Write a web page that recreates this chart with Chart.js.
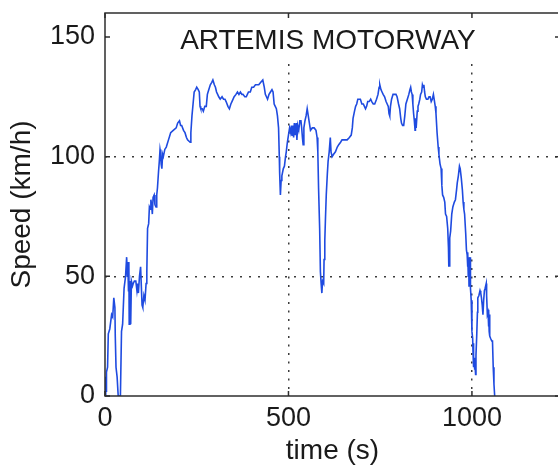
<!DOCTYPE html>
<html>
<head>
<meta charset="utf-8">
<title>ARTEMIS MOTORWAY</title>
<script src="https://cdn.jsdelivr.net/npm/chart.js@4.4.1/dist/chart.umd.min.js"></script>
<style>
  html, body { margin: 0; padding: 0; background: #fff; overflow: hidden; }
  #wrap { position: relative; width: 600px; height: 465px; }
</style>
</head>
<body>
<div id="wrap"><canvas id="speedChart"></canvas></div>
<script>
// drive cycle: time (s) vs speed (km/h)
const timeS = [
  0, 2, 3, 4, 7, 9, 13, 18, 21, 24, 27, 28, 30, 33, 36, 42, 45, 48, 52, 56,
  59, 61, 62, 64, 65, 66, 68, 70, 72, 75, 77, 80, 84, 87, 89, 91, 94, 97, 99, 101,
  103, 106, 109, 112, 114, 116, 119, 121, 124, 125, 127, 129, 131, 134, 136, 139, 141, 143, 146, 148,
  150, 152, 153, 155, 157, 159, 163, 167, 173, 179, 186, 194, 198, 203, 206, 209, 214, 218, 222, 225,
  232, 234, 237, 240, 243, 247, 250, 254, 257, 259, 261, 265, 268, 272, 276, 279, 283, 287, 291, 294,
  298, 301, 304, 307, 310, 314, 319, 323, 327, 330, 335, 339, 343, 346, 352, 357, 361, 365, 369, 373,
  376, 381, 385, 388, 391, 396, 400, 405, 410, 414, 419, 424, 430, 434, 437, 440, 443, 447, 451, 455,
  458, 461, 464, 467, 470, 473, 475, 476, 478, 480, 482, 486, 489, 492, 494, 497, 500, 503, 506, 508,
  510, 512, 514, 516, 518, 521, 523, 525, 528, 531, 534, 536, 538, 540, 542, 545, 548, 551, 554, 557,
  560, 565, 570, 575, 578, 580, 582, 585, 587, 589, 591, 593, 596, 597, 599, 601, 603, 606, 608, 611,
  614, 616, 619, 623, 628, 633, 637, 642, 646, 652, 660, 666, 671, 674, 676, 680, 683, 686, 689, 693,
  696, 700, 704, 707, 710, 713, 716, 720, 724, 727, 731, 735, 740, 744, 747, 749, 752, 755, 758, 762,
  766, 769, 772, 774, 776, 778, 781, 785, 789, 793, 796, 800, 803, 806, 808, 811, 814, 817, 820, 824,
  828, 831, 833, 835, 837, 839, 841, 843, 845, 846, 848, 851, 853, 855, 858, 860, 863, 865, 867, 869,
  871, 873, 876, 880, 883, 886, 889, 892, 895, 897, 900, 902, 905, 908, 910, 913, 916, 918, 920, 923,
  926, 928, 931, 934, 936, 937, 938, 939, 940, 942, 945, 948, 952, 955, 958, 960, 963, 966, 968, 971,
  974, 976, 978, 980, 983, 985, 987, 988, 989, 990, 991, 992, 993, 995, 996, 998, 1000, 1002, 1003, 1004,
  1005, 1006, 1007, 1008, 1010, 1011, 1013, 1015, 1016, 1019, 1022, 1024, 1026, 1028, 1030, 1032, 1034, 1036, 1039, 1040,
  1042, 1044, 1045, 1046, 1047, 1048, 1049, 1051, 1054, 1056, 1058, 1060, 1062
];
const speedKmh = [
  0, 8, 2, 10, 12, 26, 28, 34, 33, 41, 37, 25, 12, 8, 0, 0, 27, 30, 45, 50,
  58, 50, 56, 44, 56, 30, 48, 30, 48, 46, 47, 48, 48, 44, 47, 43, 50, 54, 46, 38,
  37, 42, 40, 47, 52, 70, 72, 79, 78, 82, 80, 76, 83, 84, 80, 79, 84, 87, 94, 98,
  103, 101, 97, 95, 101, 100, 103, 104, 107, 110, 111, 112, 114, 115, 113, 113, 111, 110, 108, 107,
  106, 110, 117, 122, 127, 128, 129, 128, 127, 121, 120, 120, 119, 121, 121, 126, 128, 130, 131, 132,
  130, 129, 127, 126, 125, 124, 125, 124, 124, 123, 121, 120, 122, 123, 125, 126, 127, 126, 127, 126,
  126, 125, 125, 126, 127, 127, 129, 129, 130, 130, 130, 131, 132, 129, 126, 125, 124, 126, 127, 128,
  127, 122, 121, 120, 117, 112, 100, 93, 84, 90, 92, 95, 96, 100, 102, 106, 109, 112, 110, 113,
  109, 113, 108, 114, 109, 114, 107, 113, 111, 115, 115, 112, 108, 105, 112, 115, 117, 120, 117, 114,
  111, 112, 112, 111, 108, 102, 87, 70, 52, 47, 43, 48, 47, 57, 65, 75, 84, 93, 98, 102,
  108, 102, 100, 101, 102, 104, 105, 106, 107, 107, 107, 108, 109, 112, 116, 119, 121, 122, 124, 124,
  124, 122, 122, 121, 120, 121, 123, 123, 124, 123, 122, 122, 124, 126, 129, 130, 128, 127, 126, 125,
  123, 122, 121, 118, 117, 121, 124, 126, 126, 126, 125, 122, 120, 116, 114, 113, 113, 117, 122, 124,
  126, 128, 129, 127, 126, 122, 118, 115, 111, 116, 112, 119, 121, 122, 124, 126, 127, 130, 129, 130,
  127, 125, 124, 124, 125, 125, 123, 124, 126, 124, 121, 118, 110, 104, 101, 97, 95, 88, 84, 83,
  81, 76, 75, 70, 62, 54, 60, 54, 66, 69, 76, 79, 81, 82, 86, 89, 92, 96, 95, 91,
  86, 81, 78, 76, 68, 61, 59, 54, 60, 50, 58, 46, 56, 58, 45, 40, 27, 24, 18, 22,
  12, 16, 11, 15, 9, 17, 25, 35, 41, 42, 44, 43, 41, 38, 34, 40, 44, 45, 47, 42,
  34, 35, 29, 36, 27, 34, 25, 24, 23, 23, 12, 5, 0
];

const xTicks = [0, 500, 1000];
const yTicks = [0, 50, 100, 150];
const xMax = 1240;
const yMax = 160;
const chartTitle = 'ARTEMIS MOTORWAY';

const FONT = "'Liberation Sans', Arial, Helvetica, sans-serif";
const INK = '#1a1a1a';
const DOTS = '#3c3c3c';
const NONE = 'rgba(0,0,0,0)';

const points = timeS.map((t, i) => ({ x: t, y: speedKmh[i] }));

// title box over the top band, then frame + inward ticks like a matlab axes
const axesDecor = {
  id: 'axesDecor',
  beforeDatasetsDraw(chart) {
    const { ctx, chartArea: a } = chart;
    ctx.save();
    ctx.fillStyle = '#fff';
    ctx.fillRect(a.left + 1, a.top + 1, a.right - a.left - 2, 44);
    ctx.restore();
  },
  afterDraw(chart) {
    const { ctx, chartArea: a, scales } = chart;
    const len = 5;
    ctx.save();
    ctx.strokeStyle = '#2e2e2e';
    ctx.lineWidth = 1.5;
    ctx.strokeRect(a.left, a.top, a.right - a.left, a.bottom - a.top);
    ctx.beginPath();
    xTicks.forEach(v => {
      const px = scales.x.getPixelForValue(v);
      ctx.moveTo(px, a.bottom); ctx.lineTo(px, a.bottom - len);
      ctx.moveTo(px, a.top); ctx.lineTo(px, a.top + len);
    });
    yTicks.forEach(v => {
      const py = scales.y.getPixelForValue(v);
      ctx.moveTo(a.left, py); ctx.lineTo(a.left + len, py);
      ctx.moveTo(a.right, py); ctx.lineTo(a.right - len, py);
    });
    ctx.stroke();

    ctx.fillStyle = INK;
    ctx.font = '28px ' + FONT;
    ctx.textAlign = 'center';
    ctx.textBaseline = 'alphabetic';
    ctx.fillText(chartTitle, a.left + (a.right - a.left) * 0.49, a.top + 36);
    ctx.restore();
  }
};

new Chart(document.getElementById('speedChart'), {
  type: 'line',
  data: {
    datasets: [{
      data: points,
      borderColor: '#1f4be0',
      borderWidth: 1.6,
      pointRadius: 0,
      tension: 0,
      fill: false
    }]
  },
  options: {
    responsive: true,
    maintainAspectRatio: false,
    animation: false,
    devicePixelRatio: 1,
    layout: { padding: { top: 13, right: 40, left: 0, bottom: 0 } },
    plugins: {
      legend: { display: false },
      tooltip: { enabled: false }
    },
    scales: {
      x: {
        type: 'linear',
        min: 0,
        max: xMax,
        afterBuildTicks: axis => { axis.ticks = xTicks.map(v => ({ value: v })); },
        afterFit: scale => {
          scale.height = 69;
          scale.paddingLeft = 0;
          scale.paddingRight = 0;
        },
        border: { display: false, dash: [2, 6.5] },
        grid: {
          drawTicks: false,
          color: c => (c.tick && c.tick.value > 0 ? DOTS : NONE),
          lineWidth: 1.5
        },
        ticks: {
          padding: 6,
          color: INK,
          font: { family: FONT, size: 27 },
          maxRotation: 0,
          callback: v => String(v)
        },
        title: {
          display: true,
          text: 'time (s)',
          color: INK,
          font: { family: FONT, size: 28, lineHeight: 1 },
          padding: { top: 0, bottom: 0 }
        }
      },
      y: {
        min: 0,
        max: yMax,
        afterBuildTicks: axis => { axis.ticks = yTicks.map(v => ({ value: v })); },
        afterFit: scale => {
          scale.width = 105;
          scale.paddingTop = 0;
          scale.paddingBottom = 0;
        },
        border: { display: false, dash: [2, 7] },
        grid: {
          drawTicks: false,
          color: c => (c.tick && c.tick.value > 0 ? DOTS : NONE),
          lineWidth: 1.5
        },
        ticks: {
          padding: 10,
          color: INK,
          font: { family: FONT, size: 27 },
          callback: v => String(v)
        },
        title: {
          display: true,
          text: 'Speed (km/h)',
          color: INK,
          font: { family: FONT, size: 28, lineHeight: 1 },
          padding: { top: 8, bottom: 0 }
        }
      }
    }
  },
  plugins: [axesDecor]
});
</script>
</body>
</html>
